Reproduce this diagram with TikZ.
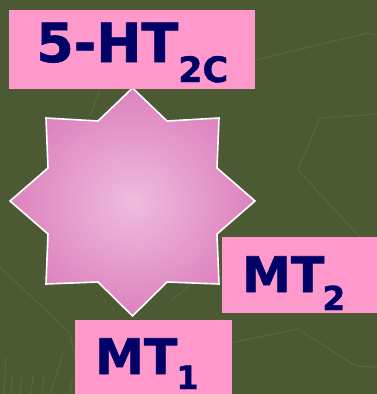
\documentclass[tikz,border=0pt]{standalone}
\usepackage{fontspec}
\setmainfont{DejaVu Sans}
\newfontfamily\heavyfont{DejaVu Sans Bold}[FakeBold=1.2]
\definecolor{bg}{RGB}{75,90,50}
\definecolor{bgline}{RGB}{85,100,59}
\definecolor{boxpink}{RGB}{255,153,204}
\definecolor{navy}{RGB}{0,0,102}
\definecolor{starin}{RGB}{238,188,222}
\definecolor{starout}{RGB}{210,90,168}
\pgfdeclareradialshading{starshade}{\pgfpoint{0bp}{0bp}}{color(0bp)=(starin); color(42bp)=(starout); color(50bp)=(starout)}
\tikzset{
  faint/.style={draw=bgline, line width=1.6pt, line join=round},
  labelbox/.style={rectangle, fill=boxpink, draw=none, inner sep=0pt},
  labeltext/.style={text=navy, inner sep=0pt, font=\heavyfont},
}
\begin{document}
\begin{tikzpicture}[x=1pt,y=-1pt]
\useasboundingbox (0,0) rectangle (377,394);
\fill[bg] (0,0) rectangle (377,394);
% faint background lines
\draw[faint] (240,64) -- (367,33) -- (377,35);
\draw[faint] (377,114) -- (320,118) -- (298,170) -- (372,250);
\draw[faint] (225,344) -- (298,329) -- (356,366) -- (377,367);
\draw[faint] (0,267) -- (70,333) -- (78,370);
\draw[faint] (100,89) -- (90,116);
\draw[faint] (172,300) -- (190,285);
\draw[faint, line width=1.3pt] (6,357) -- (4,394);
\draw[faint, line width=1.3pt] (12,377) -- (11,394);
\draw[faint, line width=1.3pt] (22,376) -- (20,394);
\draw[faint, line width=1.3pt] (33,376) -- (31,394);
\draw[faint, line width=1.3pt] (44,376) -- (42,394);
\draw[faint, line width=1.3pt] (63,353) -- (50,394);
\draw[faint, line width=1.3pt] (72,380) -- (70,394);
% star
\path[shading=starshade, draw=white, line width=1.6pt, line join=miter]
  (132.5,88) -- (167,121) -- (219,118) -- (217,168) -- (255,201)
  -- (217,234) -- (219,284) -- (167,282) -- (132.5,316)
  -- (98,282) -- (46,284) -- (48,234) -- (10,201)
  -- (48,168) -- (46,118) -- (98,121) -- cycle;
% boxes
\node[labelbox, minimum width=246pt, minimum height=79pt] (b1) at (132,49.5) {};
\node[labelbox, minimum width=156pt, minimum height=76pt] (b2) at (300,275) {};
\node[labelbox, minimum width=157pt, minimum height=75pt] (b3) at (153.5,357) {};
% texts
\node[labeltext, anchor=base west] (t1) at (36,62)
  {\fontsize{54}{54}\selectfont 5-HT\raisebox{-20pt}{\fontsize{35}{35}\selectfont 2C}};
\node[labeltext, anchor=base west] (t2) at (242,292)
  {\fontsize{49}{49}\selectfont MT\kern-2pt\raisebox{-18pt}{\fontsize{33}{33}\selectfont 2}};
\node[labeltext, anchor=base west] (t3) at (95,374)
  {\fontsize{49}{49}\selectfont MT\kern-1pt\raisebox{-15pt}{\fontsize{32}{32}\selectfont 1}};
\end{tikzpicture}
\end{document}
